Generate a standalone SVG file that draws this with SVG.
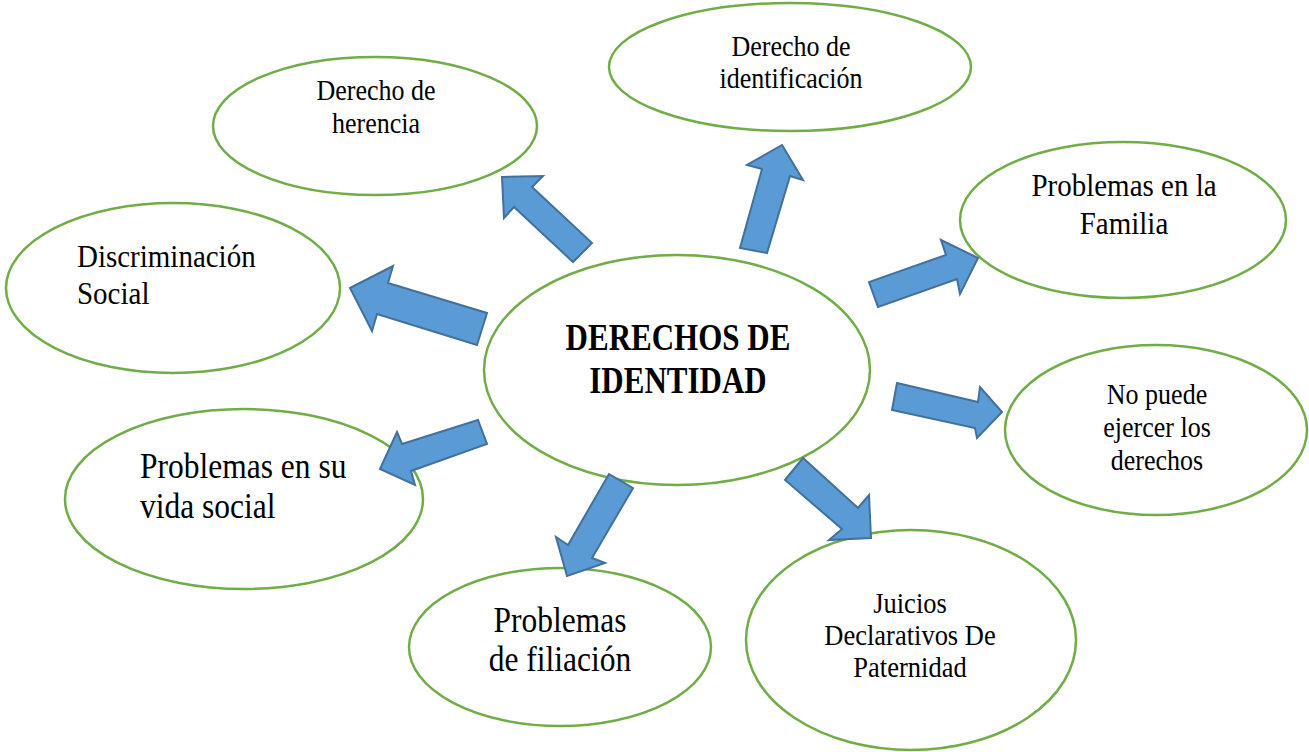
<svg xmlns="http://www.w3.org/2000/svg" width="1309" height="752" viewBox="0 0 1309 752">
<style>
.n{fill:#ffffff;stroke:#70AD47;stroke-width:2.5}
.a{fill:#5B9BD5;stroke:#41719C;stroke-width:2;stroke-linejoin:miter}
.t{font-family:"Liberation Serif","Times New Roman",serif;fill:#000000;text-anchor:middle}
.l{text-anchor:start}
.b{font-weight:bold}
</style>
<rect width="1309" height="752" fill="#ffffff"/>
<g id="node-herencia">
<ellipse class="n" cx="375" cy="126" rx="162" ry="69"/>
<text class="t" font-size="26" transform="translate(376,100) scale(1,1.12)">Derecho de</text>
<text class="t" font-size="26" transform="translate(376,133) scale(1,1.12)">herencia</text>
</g>
<g id="node-identificacion">
<ellipse class="n" cx="790" cy="67" rx="181" ry="64"/>
<text class="t" font-size="26" transform="translate(791,56) scale(1,1.12)">Derecho de</text>
<text class="t" font-size="26" transform="translate(791,88) scale(1,1.12)">identificación</text>
</g>
<g id="node-familia">
<ellipse class="n" cx="1123" cy="220" rx="163" ry="78"/>
<text class="t" font-size="29" transform="translate(1124,196) scale(1,1.12)">Problemas en la</text>
<text class="t" font-size="29" transform="translate(1124,234) scale(1,1.12)">Familia</text>
</g>
<g id="node-discriminacion">
<ellipse class="n" cx="173" cy="288" rx="167" ry="85"/>
<text class="t l" font-size="29" transform="translate(77,267) scale(1,1.12)">Discriminación</text>
<text class="t l" font-size="29" transform="translate(77,304) scale(1,1.12)">Social</text>
</g>
<g id="node-center">
<ellipse class="n" cx="677" cy="370" rx="193" ry="115"/>
<text class="t b" font-size="31" transform="translate(678,350) scale(1,1.2)">DERECHOS DE</text>
<text class="t b" font-size="31" transform="translate(678,393) scale(1,1.2)">IDENTIDAD</text>
</g>
<g id="node-ejercer">
<ellipse class="n" cx="1156" cy="430" rx="151" ry="85"/>
<text class="t" font-size="26" transform="translate(1157,404) scale(1,1.12)">No puede</text>
<text class="t" font-size="26" transform="translate(1157,437) scale(1,1.12)">ejercer los</text>
<text class="t" font-size="26" transform="translate(1157,470) scale(1,1.12)">derechos</text>
</g>
<g id="node-vida-social">
<ellipse class="n" cx="244" cy="499" rx="179" ry="90"/>
<text class="t l" font-size="31.5" transform="translate(140,478) scale(1,1.12)">Problemas en su</text>
<text class="t l" font-size="31.5" transform="translate(140,518) scale(1,1.12)">vida social</text>
</g>
<g id="node-filiacion">
<ellipse class="n" cx="560" cy="647" rx="151" ry="79"/>
<text class="t" font-size="31.5" transform="translate(560,632) scale(1,1.12)">Problemas</text>
<text class="t" font-size="31.5" transform="translate(560,671) scale(1,1.12)">de filiación</text>
</g>
<g id="node-juicios">
<ellipse class="n" cx="911" cy="640" rx="165" ry="110"/>
<text class="t" font-size="26.5" transform="translate(910,613) scale(1,1.12)">Juicios</text>
<text class="t" font-size="26.5" transform="translate(910,645) scale(1,1.12)">Declarativos De</text>
<text class="t" font-size="26.5" transform="translate(910,677) scale(1,1.12)">Paternidad</text>
</g>
<g id="connectors">
<polygon class="a" points="502,177 543,176 532,187 592,243 573,262 514,207 504,218"/>
<polygon class="a" points="782,145 803,180 790,176 767,253 740,248 762,169 747,165"/>
<polygon class="a" points="978,258 960,294 957,279 878,307 869,282 946,255 941,240"/>
<polygon class="a" points="350,288 393,266 388,283 487,313 477,345 377,314 372,331"/>
<polygon class="a" points="380,469 397,432 402,444 478,420 487,444 411,471 415,485"/>
<polygon class="a" points="567,576 556,537 568,545 609,474 633,488 592,558 605,563"/>
<polygon class="a" points="871,538 829,540 842,529 785,480 803,458 858,508 869,495"/>
<polygon class="a" points="1002,412 977,438 975,428 892,410 897,383 978,402 980,387"/>
</g>
</svg>
